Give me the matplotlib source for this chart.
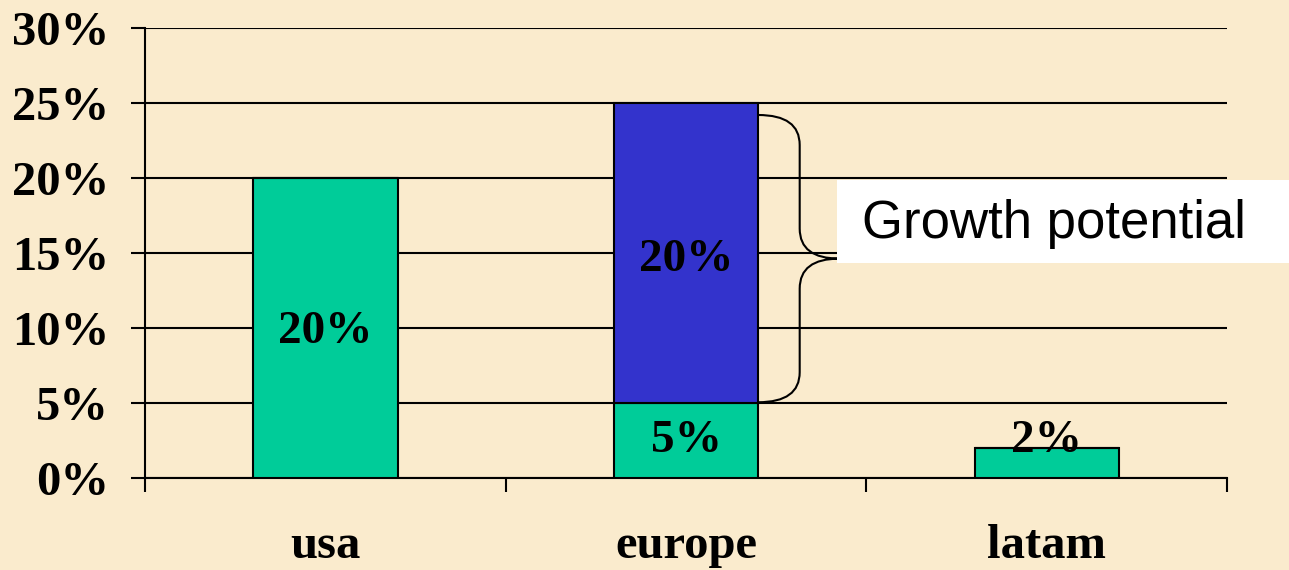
import matplotlib
matplotlib.use('Agg')
import matplotlib.pyplot as plt
import numpy as np
from matplotlib.path import Path
from matplotlib.patches import PathPatch, Rectangle

categories = ['usa', 'europe', 'latam']
current = [20, 5, 2]          # green bars (current share)
potential = [0, 20, 0]        # blue stacked segment (growth potential)
yticks = [0, 5, 10, 15, 20, 25, 30]
ytick_labels = ['0%', '5%', '10%', '15%', '20%', '25%', '30%']

green = '#00CC99'
blue = '#3333CC'
bg = '#FAEBCD'
serif = 'Liberation Serif'

fig = plt.figure(figsize=(12.89, 5.70), dpi=100)
fig.patch.set_facecolor(bg)
ax = fig.add_axes([0.1125, 0.1614, 0.8395, 0.7895])
ax.set_facecolor('none')

x = np.arange(len(categories))
ax.bar(x, current, width=0.4, color=green, edgecolor='black', linewidth=1.5, zorder=3)
ax.bar(x, potential, width=0.4, bottom=current, color=blue, edgecolor='black', linewidth=1.5, zorder=3)

# value labels
for i in range(len(categories)):
    c = current[i]
    p = potential[i]
    if p > 0:
        ax.text(x[i], c / 2, f'{c}%', ha='center', va='center', fontsize=34,
                fontweight='bold', family=serif, zorder=4)
        ax.text(x[i], c + p / 2 - 0.5, f'{p}%', ha='center', va='center', fontsize=34,
                fontweight='bold', family=serif, zorder=4)
    elif c < 5:
        ax.text(x[i], c + 0.5, f'{c}%', ha='center', va='center', fontsize=34,
                fontweight='bold', family=serif, zorder=4)
    else:
        ax.text(x[i], c / 2 - 0.3, f'{c}%', ha='center', va='center', fontsize=34,
                fontweight='bold', family=serif, zorder=4)

ax.set_xlim(-0.5, 2.5)
ax.set_ylim(0, 30)

# gridlines
ax.set_yticks(yticks)
ax.set_yticklabels(ytick_labels)
ax.yaxis.grid(True, color='black', linewidth=1.5, zorder=1)
ax.set_axisbelow(True)

# x ticks at boundaries, labels at centers
ax.set_xticks(np.arange(-0.5, 3, 1))
ax.set_xticklabels([])
ax.set_xticks(x, minor=True)
ax.set_xticklabels(categories, minor=True)
ax.tick_params(axis='x', which='major', direction='out', length=10, width=1.5)
ax.tick_params(axis='x', which='minor', length=0, pad=33)
ax.tick_params(axis='y', direction='out', length=10, width=1.5, pad=16)

for lab in ax.get_xticklabels(minor=True) + ax.get_yticklabels():
    lab.set_fontfamily(serif)
    lab.set_fontweight('bold')
    lab.set_fontsize(35)

for s in ['top', 'right']:
    ax.spines[s].set_visible(False)
ax.spines['left'].set_linewidth(1.5)
ax.spines['bottom'].set_linewidth(1.5)

# curly brace next to the europe growth segment
i = 1
y0 = current[i] + 0.05
y1 = current[i] + potential[i] - 0.8
ym = (y0 + y1) / 2
xa = x[i] + 0.2
xb = xa + 0.115
xc = xb + 0.11
r = 2.0
verts = [(xa, y1), (xb, y1), (xb, y1 - r),
         (xb, ym + r),
         (xb, ym), (xc, ym),
         (xb, ym), (xb, ym - r),
         (xb, y0 + r),
         (xb, y0), (xa, y0)]
codes = [Path.MOVETO, Path.CURVE3, Path.CURVE3,
         Path.LINETO,
         Path.CURVE3, Path.CURVE3,
         Path.CURVE3, Path.CURVE3,
         Path.LINETO,
         Path.CURVE3, Path.CURVE3]
ax.add_patch(PathPatch(Path(verts, codes), facecolor='none', edgecolor='black',
                       linewidth=1.5, zorder=4, clip_on=False))

# white text box
fig.patches.append(Rectangle((0.649, 0.5386), 0.36, 0.1456, transform=fig.transFigure,
                             facecolor='white', edgecolor='none', zorder=5))
fig.text(0.669, 0.607, 'Growth potential', fontsize=38, family='Liberation Sans',
         ha='left', va='center', zorder=6)

fig.savefig('out.png', dpi=100, facecolor=bg)
